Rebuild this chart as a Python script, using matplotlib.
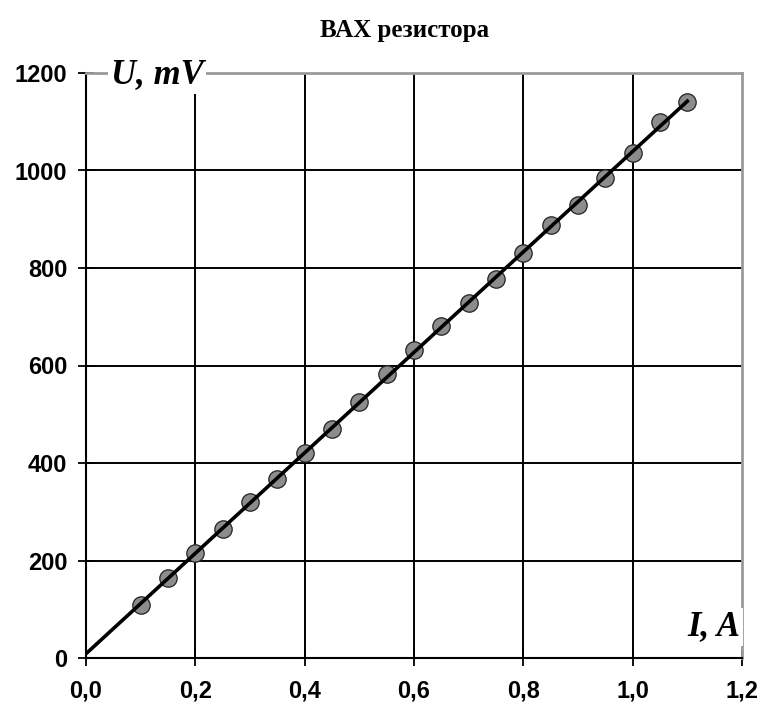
import numpy as np
import matplotlib
matplotlib.use("Agg")
import matplotlib.pyplot as plt

current_A = [0.10, 0.15, 0.20, 0.25, 0.30, 0.35, 0.40, 0.45, 0.50, 0.55, 0.60,
             0.65, 0.70, 0.75, 0.80, 0.85, 0.90, 0.95, 1.00, 1.05, 1.10]
voltage_mV = [108, 165, 215, 265, 320, 367, 420, 470, 525, 583, 632,
              682, 728, 778, 830, 888, 930, 985, 1035, 1100, 1140]
x_ticks = [0.0, 0.2, 0.4, 0.6, 0.8, 1.0, 1.2]
x_tick_labels = ["0,0", "0,2", "0,4", "0,6", "0,8", "1,0", "1,2"]
y_ticks = [0, 200, 400, 600, 800, 1000, 1200]
title = "ВАХ резистора"
xlabel = "I, A"
ylabel = "U, mV"

fig = plt.figure(figsize=(7.61, 7.08), dpi=100)
ax = fig.add_axes([86/761, 50/708, (742-86)/761, (658-73)/708])
ax.set_xlim(0, 1.2)
ax.set_ylim(0, 1200)

for xv in x_ticks[1:-1]:
    ax.axvline(xv, color="black", lw=1.4, zorder=1)
for yv in y_ticks[1:-1]:
    ax.axhline(yv, color="black", lw=1.4, zorder=1)

for side in ["top", "right"]:
    ax.spines[side].set_color("#9a9a9a")
    ax.spines[side].set_linewidth(2)
for side in ["left", "bottom"]:
    ax.spines[side].set_color("black")
    ax.spines[side].set_linewidth(1.5)

# linear trendline through data
k, b = np.polyfit(current_A, voltage_mV, 1)
xs = np.array([0.0, max(current_A)])
ax.plot(current_A, voltage_mV, "o", ms=12.5, mfc="#8c8c8c", mec="#222222",
        mew=0.9, zorder=3)
ax.plot(xs, k * xs + b, color="black", lw=2.6, zorder=4)

ax.set_xticks(x_ticks)
ax.set_xticklabels(x_tick_labels)
ax.set_yticks(y_ticks)
ax.tick_params(direction="inout", length=11, width=1.3, color="black",
               labelsize=17, pad=8)
ax.tick_params(axis="x", pad=10)
for lab in ax.get_xticklabels() + ax.get_yticklabels():
    lab.set_fontfamily("Liberation Sans")
    lab.set_fontweight("bold")

fig.text(405/761, 1 - 31/708, title, ha="center", va="center",
         fontfamily="Liberation Serif", fontweight="bold", fontsize=18)

ax.text(157/761, 1 - 75/708, ylabel, transform=fig.transFigure, ha="center",
        va="center", fontfamily="Liberation Serif", fontweight="bold",
        fontstyle="italic", fontsize=25, zorder=6,
        bbox=dict(facecolor="white", edgecolor="none", pad=2))
ax.text(714/761, 1 - 627/708, xlabel, transform=fig.transFigure, ha="center",
        va="center", fontfamily="Liberation Serif", fontweight="bold",
        fontstyle="italic", fontsize=25, zorder=6,
        bbox=dict(facecolor="white", edgecolor="none", pad=2))

fig.savefig("out.png", dpi=100)
